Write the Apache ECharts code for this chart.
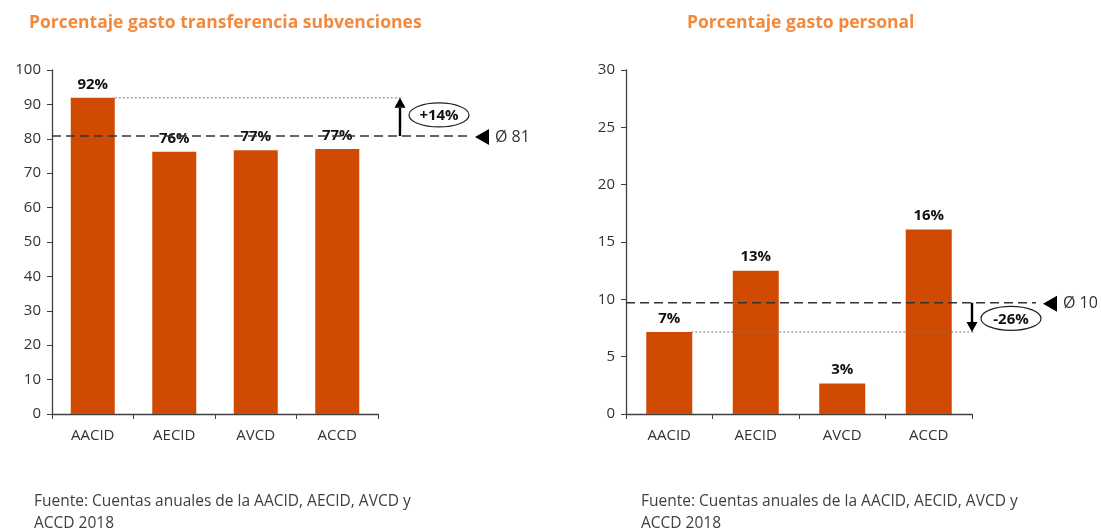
<!DOCTYPE html>
<html>
<head>
<meta charset="utf-8">
<script src="https://cdn.jsdelivr.net/npm/echarts@6/dist/echarts.min.js"></script>
<style>
  html, body { margin: 0; padding: 0; background: #fff; }
  #chart { width: 1101px; height: 530px; }
</style>
</head>
<body>
<div id="chart"></div>
<script>
// datos
const categories = ['AACID', 'AECID', 'AVCD', 'ACCD'];
const transferValues = [91.9, 76.2, 76.7, 77.0];
const transferLabels = ['92%', '76%', '77%', '77%'];
const personalValues = [7.15, 12.5, 2.65, 16.1];
const personalLabels = ['7%', '13%', '3%', '16%'];
const transferAvg = 80.8;
const personalAvg = 9.7;
const transferAvgLabel = 'Ø 81';
const personalAvgLabel = 'Ø 10';
const transferDiffLabel = '+14%';
const personalDiffLabel = '-26%';

const BAR = '#D04A02';
const TXT = '#333333';
const TITLE = '#F28A3E';
const FONT = '"Open Sans", "Noto Sans", sans-serif';

const chart = echarts.init(document.getElementById('chart'));

const yAxisBase = (max, interval) => ({
  type: 'value', min: 0, max, interval,
  axisLine: { show: true, lineStyle: { color: '#404040', width: 1.3 } },
  axisTick: { show: true, length: 5, lineStyle: { color: '#404040' } },
  splitLine: { show: false },
  axisLabel: { color: TXT, fontSize: 15, fontFamily: FONT, margin: 11 },
});
const xAxisBase = (gridIndex) => ({
  type: 'category', gridIndex, data: categories,
  axisLine: { lineStyle: { color: '#404040', width: 1.3 } },
  axisTick: { show: true, length: 5, lineStyle: { color: '#404040' } },
  axisLabel: { color: TXT, fontSize: 15, fontFamily: FONT, margin: 14 },
});
const barSeries = (idx, values, labels, width) => ({
  type: 'bar', xAxisIndex: idx, yAxisIndex: idx,
  data: values, barWidth: width,
  itemStyle: { color: BAR },
  label: {
    show: true, position: 'top', distance: 6,
    formatter: (p) => labels[p.dataIndex],
    color: '#111', fontWeight: 'bold', fontSize: 15, fontFamily: FONT,
  },
  silent: true,
});

const fuente = 'Fuente: Cuentas anuales de la AACID, AECID, AVCD y\nACCD 2018';
const fuenteStyle = { color: '#404040', fontSize: 15.5, fontWeight: 'normal', fontFamily: FONT, lineHeight: 22 };

chart.setOption({
  animation: false,
  title: [
    { text: 'Porcentaje gasto transferencia subvenciones', left: 24, top: 9,
      textStyle: { color: TITLE, fontSize: 17.5, fontWeight: 'bold', fontFamily: FONT } },
    { text: 'Porcentaje gasto personal', left: 682, top: 9,
      textStyle: { color: TITLE, fontSize: 17.5, fontWeight: 'bold', fontFamily: FONT } },
    { text: fuente, left: 29, top: 486, textStyle: fuenteStyle },
    { text: fuente, left: 636, top: 486, textStyle: fuenteStyle },
  ],
  grid: [
    { left: 52, top: 70, width: 326, height: 344 },
    { left: 626, top: 70, width: 346, height: 344 },
  ],
  xAxis: [xAxisBase(0), xAxisBase(1)],
  yAxis: [Object.assign(yAxisBase(100, 10), { gridIndex: 0 }), Object.assign(yAxisBase(30, 5), { gridIndex: 1 })],
  series: [
    barSeries(0, transferValues, transferLabels, 44),
    barSeries(1, personalValues, personalLabels, 46),
  ],
});

// anotaciones: línea media, diferencia, flecha y elipse, situadas con las escalas del gráfico
function annotations(gridIndex, avg, ref, refIdx, avgLabel, diffLabel, arrowOffset, markOffset) {
  const g = { gridIndex };
  const yAvg = chart.convertToPixel(g, [0, avg])[1];
  const yRef = chart.convertToPixel(g, [refIdx, ref])[1];
  const grid = chart.getModel().getComponent('grid', gridIndex).coordinateSystem.getRect();
  const axisX = grid.x;
  const right = grid.x + grid.width;
  const barRight = chart.convertToPixel(g, [refIdx, ref])[0] + 22;
  const ax = right + arrowOffset;
  const up = yRef < yAvg;
  const els = [];
  els.push({ type: 'line', shape: { x1: axisX, y1: yAvg, x2: ax + markOffset - 7, y2: yAvg },
    style: { stroke: '#333', lineWidth: 1.6, lineDash: [9, 5] }, z: 10 });
  els.push({ type: 'line', shape: { x1: barRight, y1: yRef, x2: ax + 3, y2: yRef },
    style: { stroke: '#777', lineWidth: 1, lineDash: [2, 2] }, z: 10 });
  const tipY = yRef;
  const headY = up ? tipY + 10 : tipY - 10;
  els.push({ type: 'line', shape: { x1: ax, y1: yAvg, x2: ax, y2: headY },
    style: { stroke: '#000', lineWidth: 2.4 }, z: 11 });
  els.push({ type: 'polygon', shape: { points: [[ax, tipY], [ax - 5.5, headY], [ax + 5.5, headY]] },
    style: { fill: '#000' }, z: 11 });
  const cy = (yAvg + yRef) / 2 - (up ? 2 : -1);
  els.push({ type: 'ellipse', shape: { cx: ax + 39, cy, rx: 30, ry: 12 },
    style: { fill: '#fff', stroke: '#222', lineWidth: 1.2 }, z: 11 });
  els.push({ type: 'text', x: ax + 39, y: cy + 1,
    style: { text: diffLabel, fill: '#111', font: 'bold 15px ' + FONT, align: 'center', verticalAlign: 'middle' }, z: 12 });
  const tx = ax + markOffset;
  els.push({ type: 'polygon', shape: { points: [[tx, yAvg + 1], [tx + 14, yAvg - 7], [tx + 14, yAvg + 9]] },
    style: { fill: '#000' }, z: 11 });
  els.push({ type: 'text', x: tx + 20, y: yAvg + 1,
    style: { text: avgLabel, fill: TXT, font: '16px ' + FONT, align: 'left', verticalAlign: 'middle' }, z: 12 });
  return els;
}

chart.setOption({
  graphic: [
    ...annotations(0, transferAvg, transferValues[0], 0, transferAvgLabel, transferDiffLabel, 22, 75),
    ...annotations(1, personalAvg, personalValues[0], 0, personalAvgLabel, personalDiffLabel, 0, 71),
  ],
});
</script>
</body>
</html>
